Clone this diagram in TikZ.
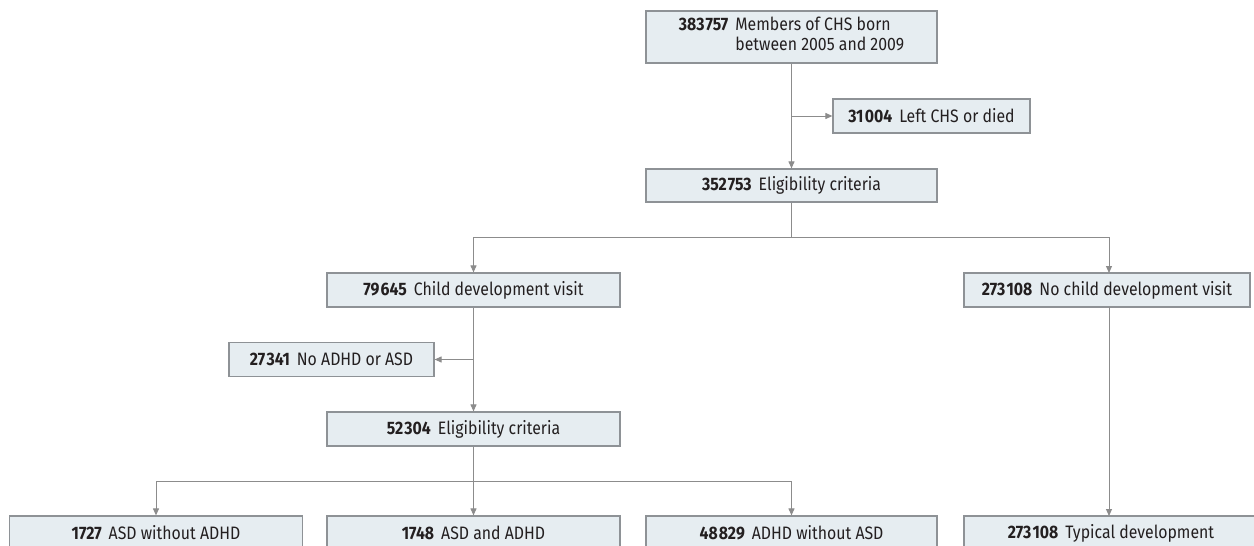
\documentclass[tikz,border=0pt]{standalone}
\usepackage{fontspec}
\setmainfont{Fira Sans}[FakeStretch=0.88]
\usetikzlibrary{arrows.meta}
\definecolor{boxfill}{HTML}{E6EDF1}
\definecolor{boxline}{HTML}{8E9296}
\definecolor{lineg}{HTML}{8C8C8C}
\definecolor{txt}{HTML}{231F20}
\newcommand{\fsz}{\fontsize{18}{20}\selectfont}
\newcommand{\ts}{\kern1.2pt}
\tikzset{
  box/.style={draw=boxline, fill=boxfill, line width=1.2pt, inner sep=0pt, align=center, font=\fsz, text=txt, minimum height=34pt},
  arr/.style={draw=lineg, line width=1pt, -{Triangle[length=7pt,width=6pt]}},
  ln/.style={draw=lineg, line width=1pt}
}
\begin{document}
\begin{tikzpicture}[x=1pt,y=1pt]
\useasboundingbox (0,0) rectangle (1254,-546);
\fill[white] (0,0) rectangle (1254,-546);
% nodes
\node[box, minimum width=291pt, minimum height=52pt] (top) at (791.5,-37)
  {\begin{tabular}{@{}l@{\hspace{7pt}}l@{}}\textbf{383\ts757} & Members of CHS born\\ & between 2005 and 2009\end{tabular}};
\node[box, minimum width=197pt] (left) at (931.5,-116) {\textbf{31\ts004}\hspace{7pt}Left CHS or died};
\node[box, minimum width=291pt, minimum height=33pt] (elig1) at (791.5,-185.5) {\textbf{352\ts753}\hspace{7pt}Eligibility criteria};
\node[box, minimum width=293pt] (cdv) at (473.5,-290) {\textbf{79\ts645}\hspace{7pt}Child development visit};
\node[box, minimum width=286pt] (nocdv) at (1107,-290) {\textbf{273\ts108}\hspace{7pt}No child development visit};
\node[box, minimum width=205pt] (noad) at (331.5,-359.5) {\textbf{27\ts341}\hspace{7pt}No ADHD or ASD};
\node[box, minimum width=293pt] (elig2) at (473.5,-429) {\textbf{52\ts304}\hspace{7pt}Eligibility criteria};
\node[box, minimum width=293pt] (b1) at (156,-533) {\textbf{1727}\hspace{7pt}ASD without ADHD};
\node[box, minimum width=293pt] (b2) at (473.5,-533) {\textbf{1748}\hspace{7pt}ASD and ADHD};
\node[box, minimum width=291pt] (b3) at (791.5,-533) {\textbf{48\ts829}\hspace{7pt}ADHD without ASD};
\node[box, minimum width=294pt] (b4) at (1111,-533) {\textbf{273\ts108}\hspace{7pt}Typical development};
% connectors
\coordinate (j1) at (top.south |- left.west);
\draw[arr] (top.south) -- (elig1.north);
\draw[arr] (j1) -- (left.west);
\coordinate (s1) at (791.5,-237);
\coordinate (sL) at (473.5,-237);
\coordinate (sR) at (1109,-237);
\draw[ln] (elig1.south) -- (s1);
\draw[arr] (s1) -- (sL) -- (cdv.north);
\draw[arr] (s1) -- (sR) -- (1109,-273);
\coordinate (j2) at (cdv.south |- noad.east);
\draw[arr] (cdv.south) -- (elig2.north);
\draw[arr] (j2) -- (noad.east);
\coordinate (s2) at (473.5,-481);
\coordinate (s2L) at (156,-481);
\coordinate (s2R) at (791.5,-481);
\draw[arr] (elig2.south) -- (b2.north);
\draw[arr] (s2) -- (s2L) -- (b1.north);
\draw[arr] (s2) -- (s2R) -- (b3.north);
\draw[arr] (1109,-307) -- (1109,-516);
\end{tikzpicture}
\end{document}
